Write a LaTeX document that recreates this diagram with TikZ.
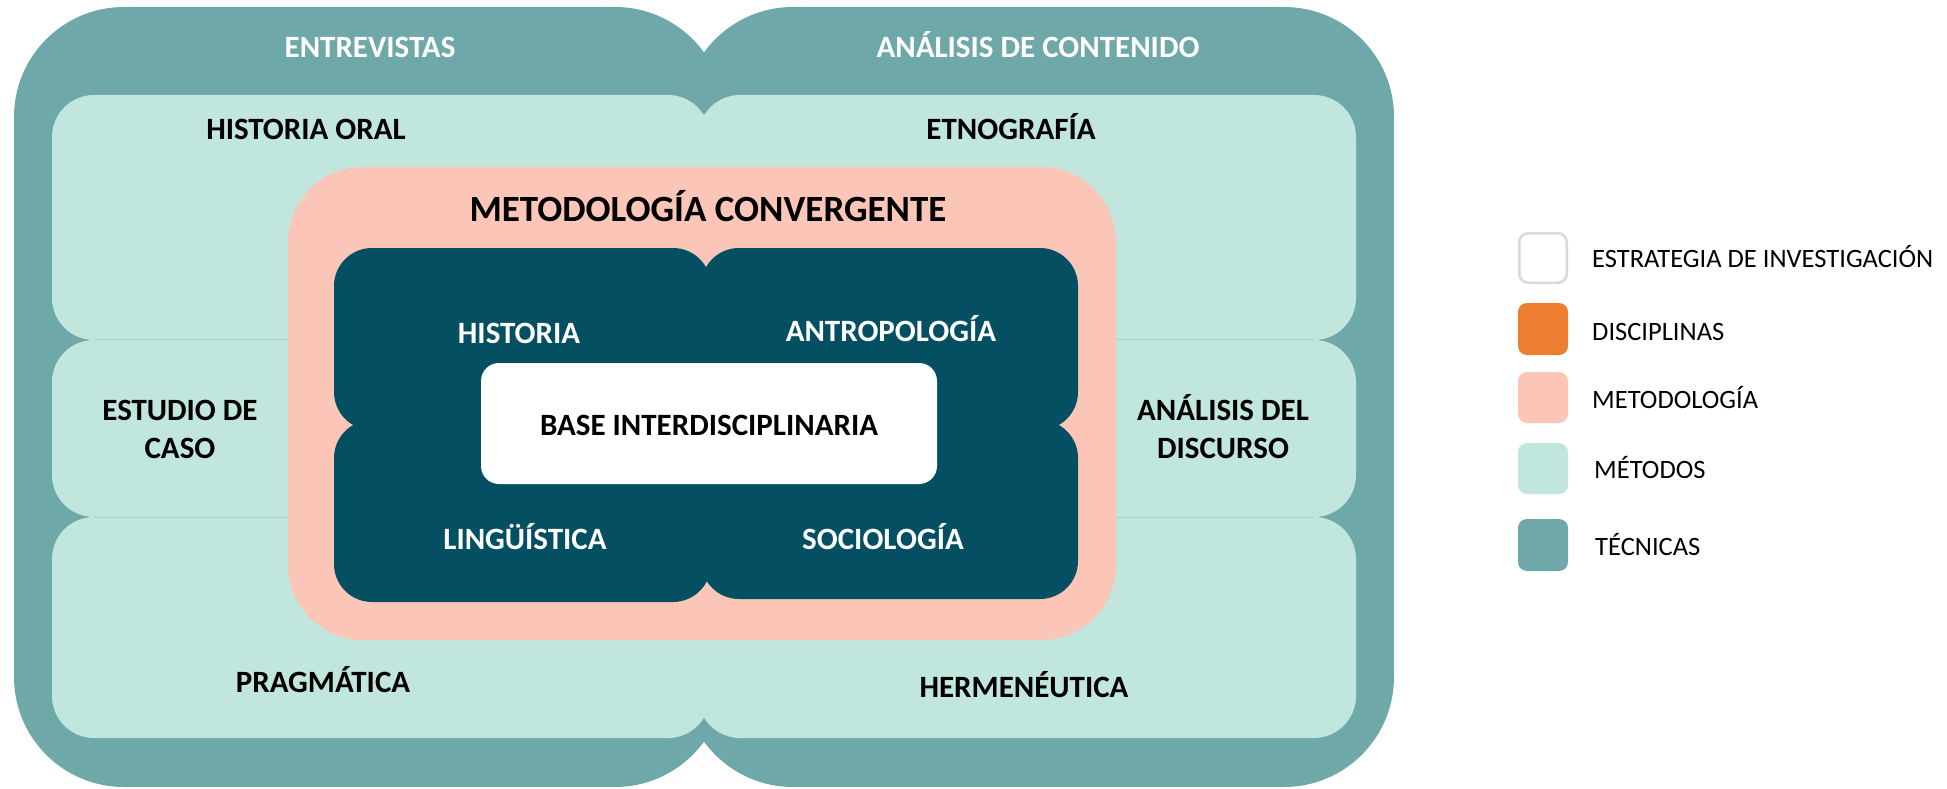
\documentclass[tikz,border=0pt]{standalone}
\usepackage{fontspec}
\setmainfont{Carlito}
\definecolor{tec}{HTML}{6EA8A8}
\definecolor{met}{HTML}{C1E6DE}
\definecolor{meto}{HTML}{FBC5B8}
\definecolor{disc}{HTML}{045062}
\definecolor{orng}{HTML}{ED7D31}
\definecolor{brd}{HTML}{D9D9D9}
\begin{document}
\begin{tikzpicture}[x=1pt,y=-1pt,
  lbl/.style={font=\fontsize{31}{37}\selectfont\bfseries, inner sep=0pt, anchor=base},
  wlbl/.style={lbl, text=white},
  biglbl/.style={lbl, font=\fontsize{37}{44}\selectfont\bfseries},
  leg/.style={font=\fontsize{26.5}{32}\selectfont, inner sep=0pt, anchor=base west},
  tecblk/.style={fill=tec, rounded corners=110pt},
  metblk/.style={fill=met, rounded corners=42pt},
  discblk/.style={fill=disc, rounded corners=38pt},
  seam/.style={draw=met!65!tec, line width=1pt},
  legbox/.style={rounded corners=9pt}]
\fill[white] (0,0) rectangle (1947,789);
\useasboundingbox (0,0) rectangle (1947,789);
% tecnicas
\path[tecblk] (14,7) rectangle (725,787);
\path[tecblk] (683,7) rectangle (1394,787);
% metodos
\foreach \a/\b in {95/340, 340/517, 517/738} {
  \path[metblk] (52,\a) rectangle (710,\b);
  \path[metblk] (698,\a) rectangle (1356,\b);
}
\foreach \y in {339.5, 517} {
  \path[seam] (95,\y) -- (290,\y);
  \path[seam] (1114,\y) -- (1313,\y);
}
% metodologia
\fill[meto, rounded corners=75pt] (288,167) rectangle (1116,640);
% disciplinas
\path[discblk] (334,248) rectangle (711,430);
\path[discblk] (701,248) rectangle (1078,430);
\path[discblk] (334,420) rectangle (711,602);
\path[discblk] (701,420) rectangle (1078,599);
% base
\fill[white, rounded corners=18pt] (481,363) rectangle (937,484);
% labels
\node[wlbl] (entrev) at (370,58) {ENTREVISTAS};
\node[wlbl] (analcont) at (1038,58) {ANÁLISIS DE CONTENIDO};
\node[lbl] (historal) at (306,140) {HISTORIA ORAL};
\node[lbl] (etno) at (1011,140) {ETNOGRAFÍA};
\node[biglbl] (metconv) at (708,222) {METODOLOGÍA CONVERGENTE};
\node[wlbl] (hist) at (519,343) {HISTORIA};
\node[wlbl] (antro) at (891,341) {ANTROPOLOGÍA};
\node[lbl] (base) at (709,435) {BASE INTERDISCIPLINARIA};
\node[lbl] (estA) at (180,420) {ESTUDIO DE};
\node[lbl] (estB) at (180,458) {CASO};
\node[lbl] (adA) at (1223,420) {ANÁLISIS DEL};
\node[lbl] (adB) at (1223,458) {DISCURSO};
\node[wlbl] (ling) at (525,549) {LINGÜÍSTICA};
\node[wlbl] (socio) at (883,549) {SOCIOLOGÍA};
\node[lbl] (prag) at (323,692) {PRAGMÁTICA};
\node[lbl] (herm) at (1024,697) {HERMENÉUTICA};
% legend
\draw[brd, line width=2.5pt, fill=white, legbox] (1519.25,233.25) rectangle (1566.75,282.75);
\fill[orng, legbox] (1518,303) rectangle (1568,355);
\fill[meto, legbox] (1518,372) rectangle (1568,423);
\fill[met, legbox] (1518,443) rectangle (1568,494);
\fill[tec, legbox] (1518,519) rectangle (1568,571);
\node[leg] (l1) at (1592,267) {ESTRATEGIA DE INVESTIGACIÓN};
\node[leg] (l2) at (1592,340) {DISCIPLINAS};
\node[leg] (l3) at (1592,408) {METODOLOGÍA};
\node[leg] (l4) at (1594,478) {MÉTODOS};
\node[leg] (l5) at (1595,555) {TÉCNICAS};
\end{tikzpicture}
\end{document}
